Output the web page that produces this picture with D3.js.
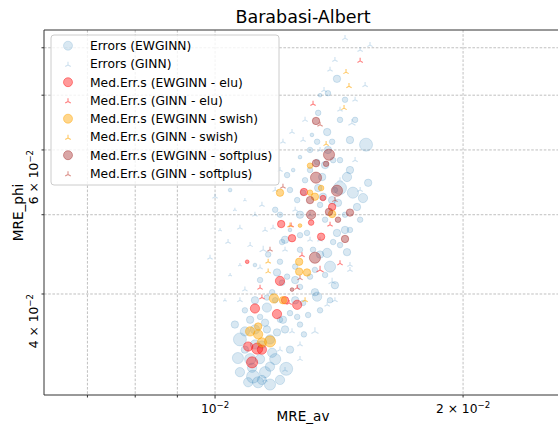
<!DOCTYPE html>
<html>
<head>
<meta charset="utf-8">
<script src="https://cdn.jsdelivr.net/npm/d3@7"></script>
<style>
  body { margin: 0; background: #fff; }
  text { font-family: "DejaVu Sans", sans-serif; }
</style>
</head>
<body>
<script>
// points: [MRE_av, MRE_phi, weight]
const errEWGINN = [
  [0.01066,0.0334,6],[0.01072,0.0352,7],[0.01087,0.0360,5],[0.01112,0.0317,7],[0.01128,0.0312,6],
  [0.0114,0.0314,5],[0.01166,0.0326,5],[0.0122,0.0324,7],[0.01183,0.0333,6],[0.01173,0.0339,5],
  [0.0115,0.0369,4],[0.01103,0.0372,4],[0.01156,0.0385,5],[0.01118,0.0393,4],[0.01134,0.0375,3],
  [0.01199,0.0372,3],[0.01258,0.0375,3],[0.0133,0.0397,5],[0.01322,0.0402,4],[0.01379,0.0432,6],
  [0.01368,0.0449,5],[0.01446,0.0450,4],[0.01406,0.0475,4],[0.01391,0.0463,3],[0.01293,0.0475,3],
  [0.01206,0.0463,3],[0.01199,0.0438,3],[0.01223,0.0420,3],[0.01189,0.0425,4],[0.01251,0.0432,3],
  [0.01304,0.0420,3],[0.01268,0.0408,3],[0.01206,0.0413,3],[0.01173,0.0402,3],[0.01156,0.0396,3],
  [0.01279,0.0390,3],[0.01233,0.0379,3],[0.01189,0.0359,4],[0.01282,0.0357,3],[0.01156,0.0362,4],
  [0.01134,0.0333,5],[0.01109,0.0325,5],[0.01406,0.0733,4],[0.01371,0.0704,3],[0.01334,0.0666,3],
  [0.01368,0.0631,4],[0.01387,0.0614,3],[0.0133,0.0614,3],[0.01311,0.0626,2],[0.01525,0.0609,7],
  [0.01371,0.0600,4],[0.01391,0.0583,3],[0.01418,0.0539,7],[0.0147,0.0532,6],[0.01512,0.0524,5],
  [0.01534,0.0547,4],[0.01446,0.0556,5],[0.01304,0.0567,3],[0.0133,0.0580,3],[0.01268,0.0588,2],
  [0.01223,0.0559,3],[0.01244,0.0567,2],[0.01279,0.0532,3],[0.01258,0.0521,3],[0.01183,0.0507,3],
  [0.01199,0.0500,3],[0.01352,0.0526,4],[0.01387,0.0521,4],[0.0141,0.0517,4],[0.01334,0.0539,4],
  [0.01349,0.0556,4],[0.01487,0.0511,4],[0.01043,0.0536,2],[0.01438,0.0500,3],[0.01458,0.0479,3],
  [0.0136,0.0493,3],[0.01315,0.0453,3],[0.0136,0.0422,3],[0.01233,0.0479,2],[0.01268,0.0453,3],
  [0.01341,0.0382,3],[0.0114,0.0347,4],[0.01097,0.0312,5],[0.01438,0.0691,3],[0.01479,0.0653,3],
  [0.01209,0.0372,4],[0.01118,0.0347,5],[0.01087,0.0342,4],
  [0.01233,0.0536,3],[0.01286,0.0551,3],[0.0136,0.0575,4],[0.01418,0.0583,3],[0.01458,0.0567,4],
  [0.01268,0.0500,4],[0.01341,0.0514,3],[0.01398,0.0536,3],[0.01216,0.0466,4],[0.01268,0.0472,3],
  [0.01341,0.0447,4],[0.01418,0.0459,3],[0.01251,0.0416,4],[0.01322,0.0428,3],[0.01398,0.0410,4],
  [0.01183,0.0393,3],[0.01251,0.0393,4],[0.01216,0.0362,4],[0.01268,0.0367,3],[0.01166,0.0352,5],
  [0.01103,0.0333,6],[0.01072,0.0321,5],[0.0115,0.0321,6],[0.01199,0.0314,5],[0.01166,0.0310,6],
  [0.01233,0.0342,4],[0.01297,0.0377,3],[0.01134,0.0416,3],[0.0116,0.0447,3],[0.01118,0.0434,2],
  [0.01418,0.0653,3],[0.01458,0.0617,4],[0.01341,0.0700,2],[0.01304,0.0600,3],[0.01438,0.0479,4],
  [0.015,0.0493,3],[0.01379,0.0393,3],[0.01087,0.0382,3],[0.01057,0.0367,4],[0.01118,0.0362,5]
];
const errGINN = [
  [0.01,0.0526,3],[0.01037,0.0463,3],[0.01072,0.0482,3],[0.01118,0.0500,3],[0.0102,0.0567,2],
  [0.00986,0.0443,3],[0.01144,0.0453,4],[0.01134,0.0431,3],[0.01387,0.0414,4],[0.01368,0.0388,3],
  [0.01322,0.0360,4],[0.01176,0.0482,3],[0.0124,0.0360,3],[0.01466,0.0647,4],[0.01356,0.0710,3],
  [0.01279,0.0617,3],[0.0124,0.0631,3],[0.01209,0.0614,3],[0.01438,0.0822,3],[0.015,0.0795,3],
  [0.01398,0.0773,3],[0.01521,0.0720,3],[0.01418,0.0672,3],[0.01166,0.0583,2],[0.01103,0.0551,3],
  [0.01072,0.0434,2],[0.01268,0.0333,3],[0.01398,0.0393,3],[0.01199,0.0342,3],[0.0115,0.0314,3],
  [0.01458,0.0434,3],[0.01479,0.0583,3],[0.01028,0.0393,2],[0.01087,0.0405,3],[0.01304,0.0500,3],
  [0.01216,0.0453,3],[0.01341,0.0466,3],[0.0114,0.0514,3],[0.01057,0.0507,2],[0.01286,0.0653,3],
  [0.01183,0.0536,3],[0.01251,0.0507,3],[0.01304,0.0466,3],[0.0115,0.0479,3],[0.01103,0.0459,3],
  [0.01341,0.0600,3],[0.01418,0.0551,3],[0.015,0.0536,3],[0.01479,0.0691,3],[0.01379,0.0752,3],
  [0.01542,0.0806,3],[0.01458,0.0428,3],[0.01268,0.0347,3],[0.01216,0.0323,3],[0.01072,0.0393,3],
  [0.01043,0.0422,2],[0.01014,0.0479,2],[0.01087,0.0521,2],[0.01199,0.0567,3],[0.01134,0.0600,2]
];
const medEWGINNelu = [
  [0.01203,0.0487,4],[0.0124,0.0468,4],[0.01308,0.0489,3],[0.01345,0.0470,4],[0.01199,0.0415,5],
  [0.01118,0.0384,5],[0.01189,0.0378,5],[0.01258,0.0388,5],[0.01216,0.0393,4],[0.01097,0.0345,5],
  [0.01125,0.0343,6],[0.01109,0.0330,6],[0.01094,0.0438,2],[0.01282,0.0533,4],[0.01352,0.0524,3],
  [0.01387,0.0511,4],[0.0114,0.0342,5]
];
const medGINNelu = [
  [0.01237,0.0485,3],[0.01379,0.0486,3],[0.01275,0.0446,3],[0.01341,0.0428,4],[0.01418,0.0436,3],
  [0.01134,0.0407,3],[0.0114,0.0396,3],[0.01258,0.0407,3],[0.0123,0.0390,3],[0.01315,0.0683,3],
  [0.015,0.0771,3]
];
const medEWGINNswish = [
  [0.01265,0.0438,4],[0.01265,0.0426,4],[0.01293,0.0425,4],[0.01179,0.0395,5],[0.01103,0.0360,5],
  [0.01128,0.0357,5],[0.01166,0.0350,6],[0.0114,0.0349,5],[0.01268,0.0485,2],[0.01209,0.0393,4],
  [0.01199,0.0532,4],[0.01304,0.0532,3],[0.01345,0.0539,3],[0.01322,0.0526,4],[0.01387,0.0501,4],
  [0.01304,0.0574,3],[0.01128,0.0365,4]
];
const medGINNswish = [
  [0.01454,0.0718,3],[0.01434,0.0675,3],[0.01364,0.0610,3],[0.0116,0.0438,3],[0.0116,0.0426,3],
  [0.01286,0.0393,3],[0.01442,0.0747,3],[0.01233,0.0485,3]
];
const medEWGINNsoftplus = [
  [0.01438,0.0467,4],[0.01322,0.0443,6],[0.0141,0.0493,3],[0.0124,0.0405,2],[0.01326,0.0651,4],
  [0.01375,0.0592,6],[0.01326,0.0578,4],[0.01326,0.0555,6],[0.01364,0.0577,3],[0.01406,0.0535,6],
  [0.01304,0.0521,4],[0.01375,0.0504,4],[0.01458,0.0503,4],[0.01308,0.0500,5]
];
const medGINNsoftplus = [
  [0.01209,0.0541,3],[0.01166,0.0453,3],[0.01268,0.0418,3],[0.01398,0.0521,3],[0.01341,0.0644,3]
];

const seriesLabels = [
  'Errors (EWGINN)', 'Errors (GINN)',
  'Med.Err.s (EWGINN - elu)', 'Med.Err.s (GINN - elu)',
  'Med.Err.s (EWGINN - swish)', 'Med.Err.s (GINN - swish)',
  'Med.Err.s (EWGINN - softplus)', 'Med.Err.s (GINN - softplus)'
];
const xGrid = [0.007, 0.008, 0.009, 0.01, 0.02, 0.03];
const yGrid = [0.03, 0.04, 0.05, 0.06, 0.07, 0.08];
const xTickLabels = [{v: 0.01, pre: '', exp: '−2'}, {v: 0.02, pre: '2 × ', exp: '−2'}];
const yTickLabels = [{v: 0.04, pre: '4 × ', exp: '−2'}, {v: 0.06, pre: '6 × ', exp: '−2'}];

const series = [
  {label: seriesLabels[0], data: errEWGINN, shape: 'o', color: '#1f77b4', alpha: 0.17},
  {label: seriesLabels[1], data: errGINN, shape: 'tri', color: '#1f77b4', alpha: 0.22},
  {label: seriesLabels[2], data: medEWGINNelu, shape: 'o', color: 'red', alpha: 0.4},
  {label: seriesLabels[3], data: medGINNelu, shape: 'tri', color: 'red', alpha: 0.5},
  {label: seriesLabels[4], data: medEWGINNswish, shape: 'o', color: '#ffa500', alpha: 0.45},
  {label: seriesLabels[5], data: medGINNswish, shape: 'tri', color: '#ffa500', alpha: 0.6},
  {label: seriesLabels[6], data: medEWGINNsoftplus, shape: 'o', color: '#a52a2a', alpha: 0.42},
  {label: seriesLabels[7], data: medGINNsoftplus, shape: 'tri', color: '#c0392b', alpha: 0.55}
];

const width = 558, height = 437;
const margin = {top: 30, bottom: 42, left: 44, right: -4};

const svg = d3.select('body').append('svg').attr('width', width).attr('height', height);

const x = d3.scaleLog().domain([0.0062, 0.02637]).range([margin.left, width - margin.right]);
const y = d3.scaleLog().domain([0.0301, 0.0841]).range([height - margin.bottom, margin.top]);
const r = d3.scaleLinear().domain([0, 7]).range([0, 6.5]);

const x0 = margin.left, x1 = width - margin.right, y0 = margin.top, y1 = height - margin.bottom;

svg.append('clipPath').attr('id', 'plot')
  .append('rect').attr('x', x0).attr('y', y0).attr('width', x1 - x0).attr('height', y1 - y0);

// grid
const grid = svg.append('g').attr('stroke', '#b0b0b0').attr('stroke-width', 0.8)
  .attr('stroke-dasharray', '2.6,1.6');
grid.selectAll('.gx').data(xGrid.filter(v => x(v) > x0 && x(v) < x1)).enter().append('line')
  .attr('x1', d => x(d)).attr('x2', d => x(d)).attr('y1', y0).attr('y2', y1);
grid.selectAll('.gy').data(yGrid.filter(v => y(v) > y0 && y(v) < y1)).enter().append('line')
  .attr('y1', d => y(d)).attr('y2', d => y(d)).attr('x1', x0).attr('x2', x1);

// marks
const tri = s => `M0,0L0,${-s}M0,0L${-0.866 * s},${0.5 * s}M0,0L${0.866 * s},${0.5 * s}`;
const marks = svg.append('g').attr('clip-path', 'url(#plot)');
series.forEach(s => {
  const g = marks.append('g');
  if (s.shape === 'o') {
    g.selectAll('circle').data(s.data).enter().append('circle')
      .attr('cx', d => x(d[0])).attr('cy', d => y(d[1])).attr('r', d => r(d[2]))
      .attr('fill', s.color).attr('fill-opacity', s.alpha)
      .attr('stroke', s.color).attr('stroke-opacity', s.alpha).attr('stroke-width', 1);
  } else {
    g.selectAll('path').data(s.data).enter().append('path')
      .attr('transform', d => `translate(${x(d[0])},${y(d[1])})`)
      .attr('d', d => tri(r(d[2]) * 1.1))
      .attr('fill', 'none').attr('stroke', s.color).attr('stroke-opacity', s.alpha)
      .attr('stroke-width', 1.1);
  }
});

// spines and ticks
const axis = svg.append('g').attr('stroke', '#333').attr('stroke-width', 1);
axis.append('line').attr('x1', x0).attr('x2', x0).attr('y1', y0).attr('y2', y1);
axis.append('line').attr('x1', x0).attr('x2', x1).attr('y1', y1).attr('y2', y1);
axis.append('line').attr('x1', x0).attr('x2', x1).attr('y1', y0).attr('y2', y0);
axis.selectAll('.tx').data(xGrid.filter(v => x(v) > x0 && x(v) < x1)).enter().append('line')
  .attr('x1', d => x(d)).attr('x2', d => x(d)).attr('y1', y1).attr('y2', d => y1 + (d === 0.01 ? 3.5 : 2.5));
axis.selectAll('.ty').data(yGrid.filter(v => y(v) > y0 && y(v) < y1)).enter().append('line')
  .attr('y1', d => y(d)).attr('y2', d => y(d)).attr('x1', x0).attr('x2', x0 - 2.5);

function sciLabel(sel, t) {
  sel.append('tspan').text(t.pre + '10');
  sel.append('tspan').attr('dy', -5).attr('font-size', 8.6).text(t.exp);
}
xTickLabels.forEach(t => {
  svg.append('text').attr('x', x(t.v)).attr('y', 413).attr('text-anchor', 'middle')
    .attr('font-size', 12.3).call(sciLabel, t);
});
yTickLabels.forEach(t => {
  svg.append('text').attr('transform', `translate(37.5,${y(t.v)}) rotate(-90)`)
    .attr('text-anchor', 'end').attr('font-size', 12.3).call(sciLabel, t);
});

// titles
svg.append('text').attr('x', (x0 + x1) / 2).attr('y', 23).attr('text-anchor', 'middle')
  .attr('font-size', 17.5).text('Barabasi-Albert');
svg.append('text').attr('x', (x0 + x1) / 2).attr('y', 421).attr('text-anchor', 'middle')
  .attr('font-size', 13.6).text('MRE_av');
svg.append('text').attr('transform', `translate(23,${(y0 + y1) / 2}) rotate(-90)`)
  .attr('text-anchor', 'middle').attr('font-size', 13.6).text('MRE_phi');

// legend
const leg = svg.append('g');
leg.append('rect').attr('x', 51).attr('y', 35).attr('width', 228).attr('height', 150).attr('rx', 3)
  .attr('fill', '#fff').attr('fill-opacity', 0.8).attr('stroke', '#ccc').attr('stroke-width', 1);
series.forEach((s, i) => {
  const yy = 45.7 + i * 18.25;
  if (s.shape === 'o') {
    leg.append('circle').attr('cx', 68).attr('cy', yy).attr('r', 4.5)
      .attr('fill', s.color).attr('fill-opacity', s.alpha)
      .attr('stroke', s.color).attr('stroke-opacity', s.alpha);
  } else {
    leg.append('path').attr('transform', `translate(68,${yy + 1})`).attr('d', tri(3.2))
      .attr('fill', 'none').attr('stroke', s.color).attr('stroke-opacity', s.alpha).attr('stroke-width', 1.1);
  }
  leg.append('text').attr('x', 90).attr('y', yy).attr('dy', '0.36em').attr('font-size', 12.3).text(s.label);
});
</script>
</body>
</html>
